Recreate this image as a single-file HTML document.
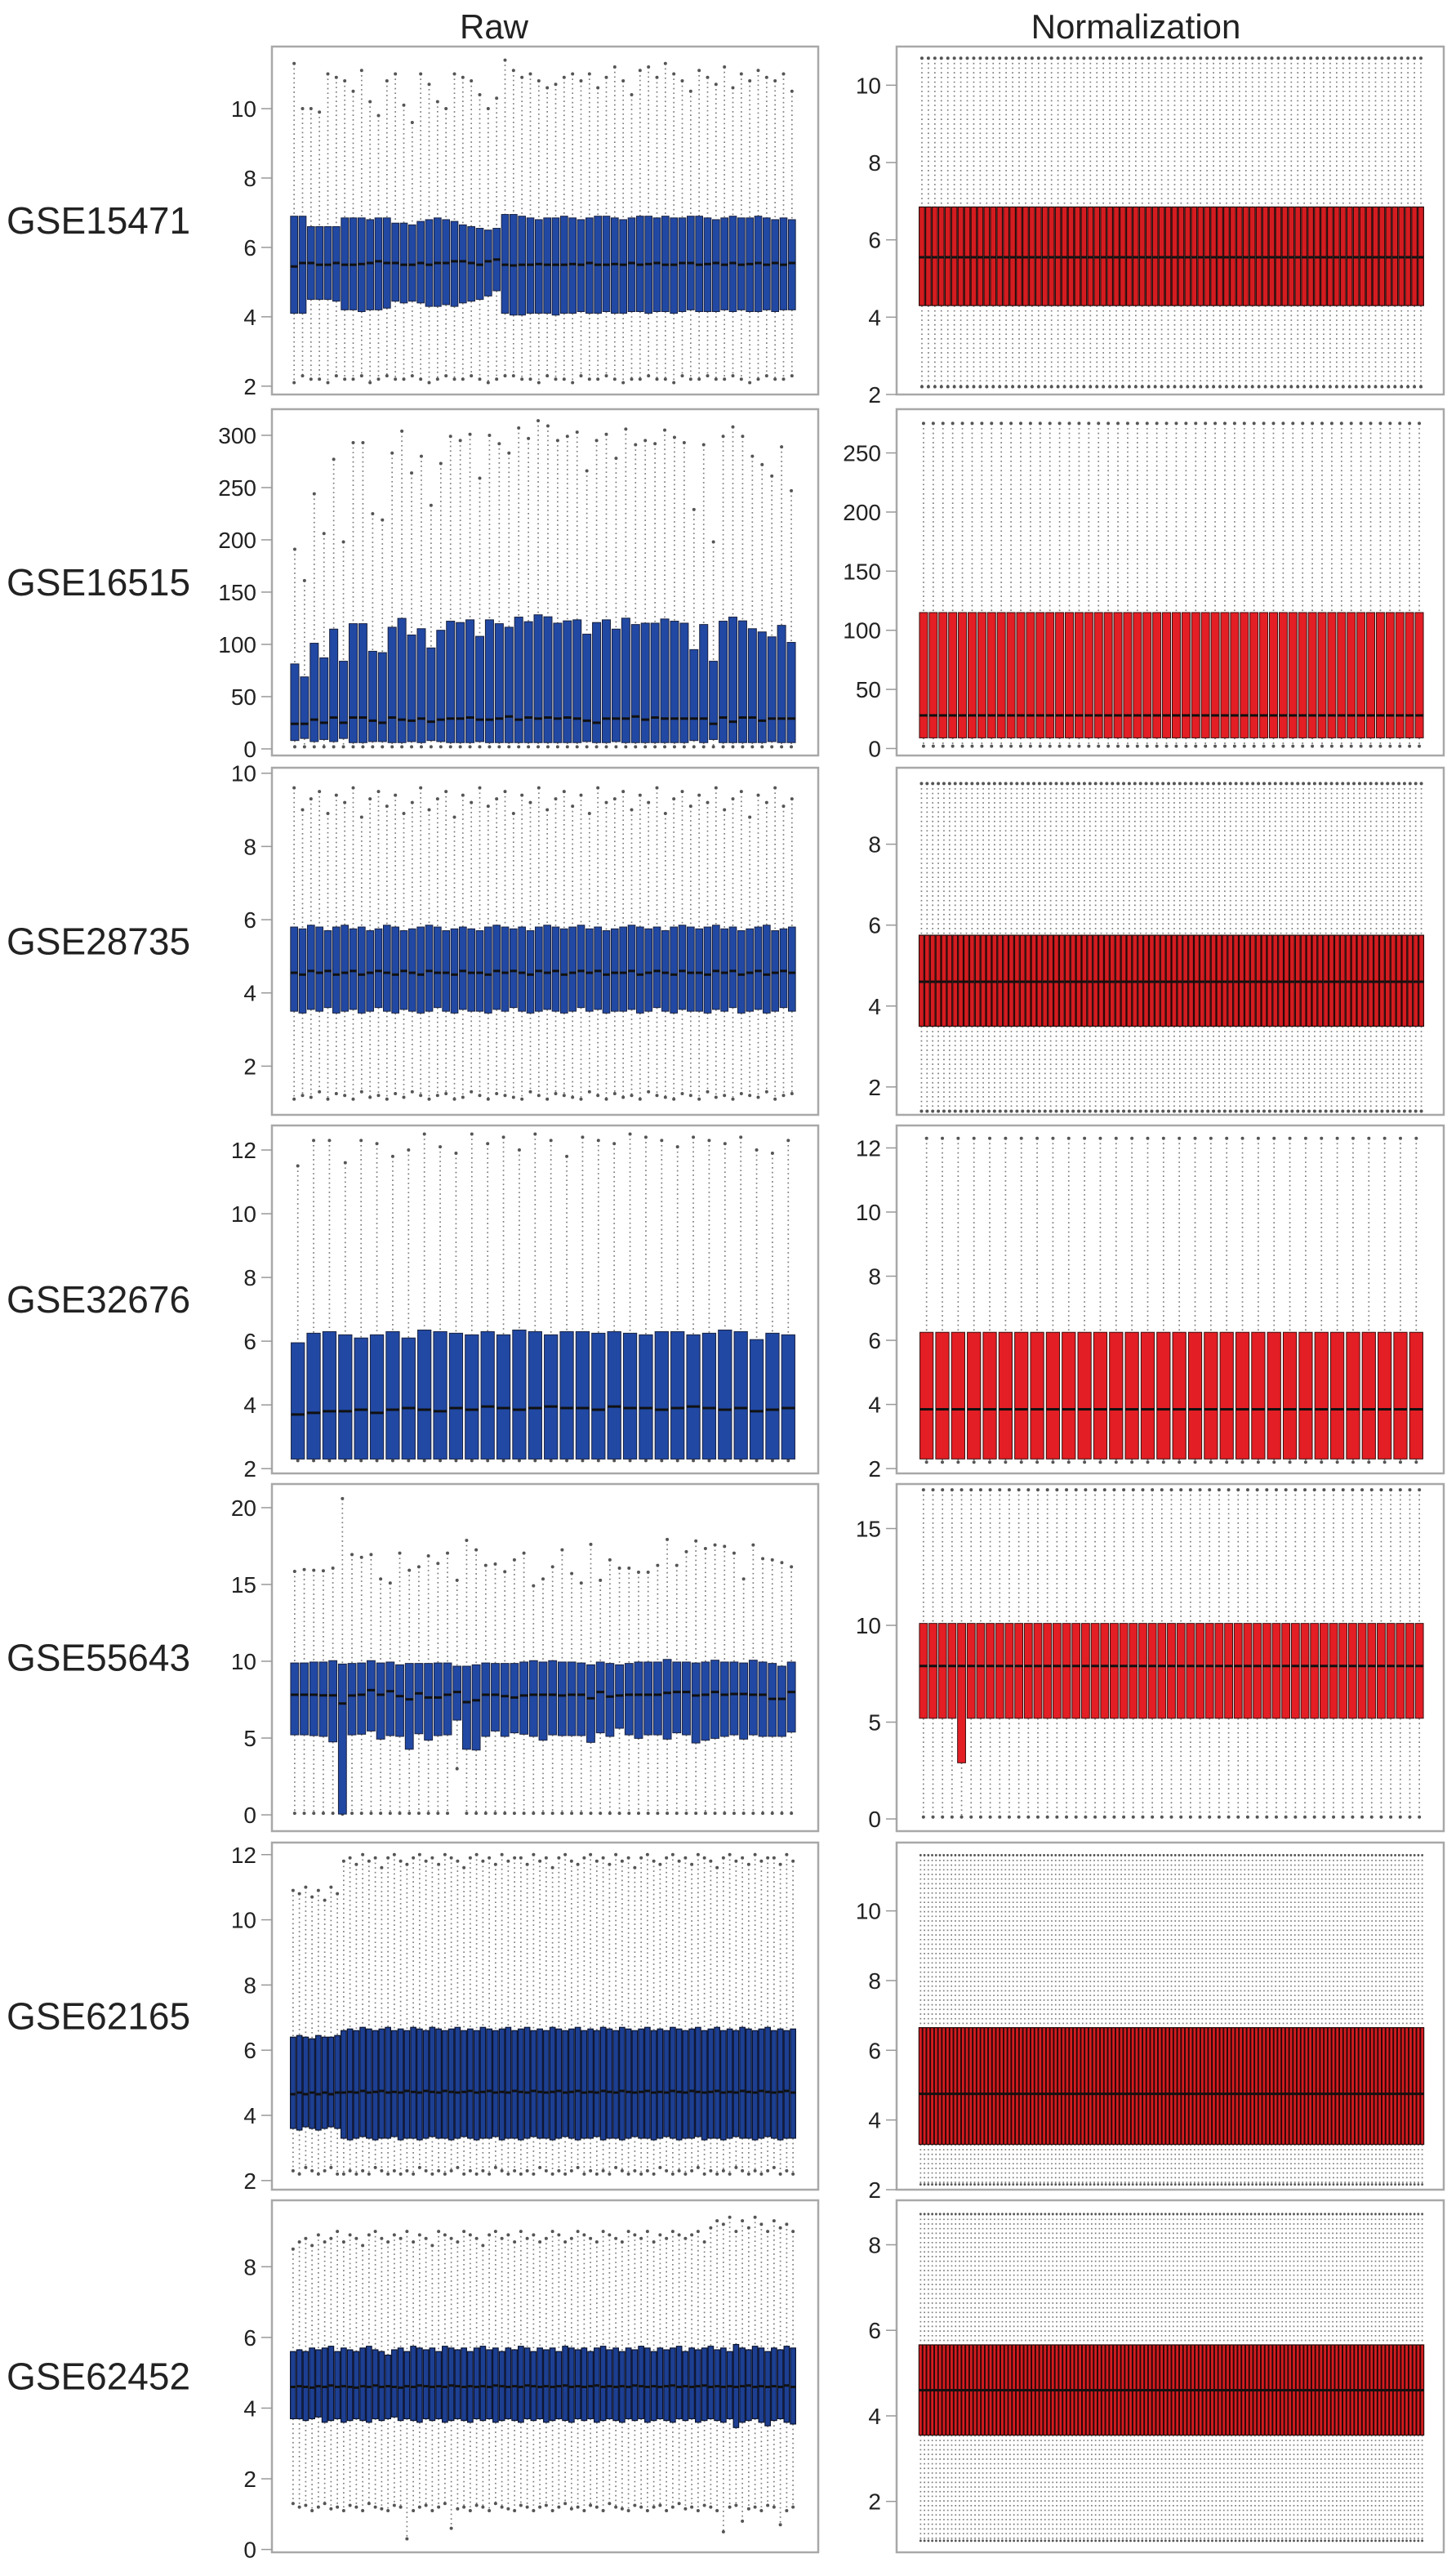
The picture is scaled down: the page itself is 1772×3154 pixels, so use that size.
<!DOCTYPE html>
<html><head><meta charset="utf-8">
<style>
html,body{margin:0;padding:0;background:#fff;}
svg{display:block;}
text{font-family:"Liberation Sans",Arial,sans-serif;}
</style></head>
<body>
<svg id="chart" xmlns="http://www.w3.org/2000/svg" width="1772" height="3154" viewBox="0 0 1772 3154">
<rect x="0" y="0" width="1772" height="3154" fill="#fff"/>
<text x="605" y="47" font-size="42" text-anchor="middle" fill="#222">Raw</text>
<text x="1391" y="47" font-size="42" text-anchor="middle" fill="#222">Normalization</text>
</svg>
<script>
// ---------- data ----------
const datasets = ["GSE15471","GSE16515","GSE28735","GSE32676","GSE55643","GSE62165","GSE62452"];

const gse15471Q3 = [6.9,6.9,6.6,6.6,6.6,6.6,6.85,6.85,6.85,6.8, 6.85,6.85,6.7,6.7,6.65,6.75,6.8,6.85,6.8,6.75, 6.65,6.6,6.55,6.5,6.55,6.95,6.95,6.9,6.85,6.8, 6.85,6.85,6.9,6.85,6.8,6.85,6.9,6.9,6.85,6.8, 6.85,6.9,6.9,6.85,6.9,6.85,6.85,6.9,6.9,6.85, 6.8,6.85,6.9,6.85,6.85,6.9,6.85,6.8,6.85,6.8];
const gse15471Q1 = [4.1,4.1,4.5,4.5,4.5,4.45,4.2,4.2,4.15,4.2, 4.2,4.25,4.45,4.4,4.45,4.4,4.3,4.3,4.35,4.3, 4.4,4.45,4.5,4.6,4.75,4.1,4.05,4.05,4.1,4.1, 4.1,4.05,4.1,4.1,4.15,4.1,4.1,4.15,4.1,4.1, 4.15,4.15,4.1,4.15,4.15,4.1,4.15,4.2,4.15,4.15, 4.15,4.2,4.15,4.2,4.15,4.15,4.2,4.15,4.2,4.2];
const gse15471Med = [5.45,5.55,5.55,5.5,5.5,5.55,5.5,5.5,5.52,5.55, 5.6,5.55,5.55,5.5,5.5,5.55,5.5,5.55,5.55,5.6, 5.6,5.55,5.5,5.6,5.65,5.5,5.48,5.5,5.5,5.52, 5.5,5.5,5.5,5.52,5.5,5.55,5.5,5.5,5.52,5.5, 5.55,5.5,5.52,5.55,5.5,5.5,5.55,5.55,5.5,5.52, 5.55,5.5,5.55,5.5,5.52,5.55,5.5,5.55,5.5,5.55];
const gse15471Hi = [11.3,10.0,10.0,9.9,11.0,10.9,10.8,10.5,11.1,10.2, 9.8,10.8,11.0,10.1,9.6,11.0,10.7,10.2,10.0,11.0, 10.9,10.8,10.4,10.0,10.3,11.4,11.1,10.9,11.0,10.8, 10.6,10.7,10.9,11.0,10.8,11.0,10.6,10.9,11.2,10.8, 10.4,11.1,11.2,10.9,11.3,11.0,10.8,10.5,11.1,10.9, 10.7,11.2,10.6,11.0,10.8,11.1,10.9,10.8,11.0,10.5];
const gse15471Lo = [2.1,2.3,2.2,2.2,2.1,2.3,2.2,2.2,2.3,2.1, 2.2,2.3,2.2,2.2,2.3,2.2,2.1,2.2,2.3,2.2, 2.2,2.3,2.2,2.1,2.2,2.3,2.3,2.2,2.2,2.1, 2.3,2.2,2.2,2.1,2.3,2.2,2.2,2.3,2.2,2.1, 2.2,2.2,2.3,2.2,2.2,2.1,2.3,2.2,2.2,2.3, 2.2,2.2,2.3,2.2,2.1,2.2,2.3,2.2,2.2,2.3];

const gse16515Q3 = [81.3,68.9,101.1,87.1,114.6,83.9,119.8,119.8,93.4,92.1, 116.4,124.9,109,115,96.6,113.5,122.2,120.9,123.5,107.7, 123.5,119.8,116.4,126.1,121.7,128.3,126.4,120.3,122.5,123.5, 109.8,120.9,123.5,114.6,125.1,119,120.3,120.3,124.3,122.2, 120.3,95,119,83.9,122.2,126.1,122.5,115,111.9,107.2, 118.2,101.9];
const gse16515Q1 = [8,10,7,9,7,10,6,6,7,7, 6,6,7,6,8,7,6,6,6,7, 6,6,6,6,6,6,6,6,6,6, 7,6,6,7,6,6,6,6,6,6, 6,8,6,9,6,6,6,6,6,7, 6,6];
const gse16515Med = [24,24,28,25,30,25,30,30,27,25, 30,28,27,29,26,28,29,29,30,28, 28,29,31,28,30,29,30,29,30,29, 27,25,29,29,29,31,28,30,29,29, 29,29,29,24,30,26,30,30,27,29, 29,29];
const gse16515Hi = [191,161,244,206,277,198,293,293,225,219, 283,304,264,280,233,273,299,295,301,259, 300,292,283,307,297,314,309,295,299,303, 266,295,301,278,306,291,295,292,305,298, 293,229,291,198,299,308,299,280,272,261, 289,247];
const gse16515Lo = [2,2,2,2,2,2,2,2,2,2, 2,2,2,2,2,2,2,2,2,2, 2,2,2,2,2,2,2,2,2,2, 2,2,2,2,2,2,2,2,2,2, 2,2,2,2,2,2,2,2,2,2, 2,2];

const gse28735Q3 = [5.8,5.75,5.85,5.8,5.7,5.8,5.85,5.75,5.8,5.7, 5.75,5.85,5.8,5.7,5.75,5.8,5.85,5.8,5.7,5.75, 5.8,5.75,5.7,5.8,5.85,5.8,5.75,5.8,5.7,5.8, 5.85,5.8,5.75,5.8,5.85,5.75,5.8,5.7,5.75,5.8, 5.85,5.8,5.75,5.8,5.7,5.8,5.85,5.8,5.75,5.8, 5.85,5.75,5.8,5.7,5.75,5.8,5.85,5.7,5.75,5.8];
const gse28735Q1 = [3.5,3.45,3.55,3.5,3.6,3.45,3.5,3.55,3.45,3.5, 3.6,3.5,3.45,3.55,3.5,3.45,3.5,3.6,3.5,3.45, 3.55,3.5,3.5,3.45,3.55,3.5,3.6,3.5,3.45,3.5, 3.55,3.5,3.45,3.5,3.6,3.5,3.55,3.45,3.5,3.5, 3.55,3.45,3.5,3.6,3.5,3.45,3.55,3.5,3.5,3.45, 3.55,3.5,3.6,3.45,3.5,3.55,3.45,3.5,3.6,3.5];
const gse28735Med = [4.55,4.5,4.6,4.55,4.6,4.5,4.55,4.6,4.5,4.55, 4.6,4.55,4.5,4.6,4.55,4.5,4.6,4.55,4.55,4.5, 4.6,4.55,4.55,4.5,4.6,4.55,4.6,4.55,4.5,4.6, 4.55,4.6,4.5,4.55,4.6,4.55,4.6,4.5,4.55,4.55, 4.6,4.5,4.55,4.6,4.55,4.5,4.6,4.55,4.55,4.5, 4.6,4.55,4.6,4.5,4.55,4.6,4.5,4.55,4.6,4.55];
const gse28735Hi = [9.6,9.0,9.3,9.5,8.9,9.4,9.2,9.6,8.8,9.3, 9.5,9.1,9.4,8.9,9.2,9.6,9.0,9.3,9.5,8.8, 9.4,9.2,9.6,9.1,9.3,9.5,8.9,9.4,9.2,9.6, 9.0,9.3,9.5,9.1,9.4,8.9,9.6,9.2,9.3,9.5, 9.0,9.4,9.2,9.6,8.9,9.3,9.5,9.1,9.4,9.2, 9.6,9.0,9.3,9.5,8.8,9.4,9.2,9.6,9.1,9.3];
const gse28735Lo = [1.1,1.2,1.15,1.3,1.1,1.25,1.2,1.1,1.3,1.15, 1.2,1.1,1.25,1.15,1.3,1.2,1.1,1.2,1.25,1.1, 1.15,1.3,1.2,1.1,1.25,1.2,1.15,1.1,1.3,1.2, 1.1,1.25,1.2,1.15,1.1,1.3,1.2,1.1,1.25,1.15, 1.2,1.1,1.3,1.2,1.15,1.1,1.25,1.2,1.1,1.3, 1.15,1.2,1.1,1.25,1.2,1.15,1.3,1.1,1.2,1.25];

const gse32676Q3 = [5.95,6.25,6.3,6.2,6.1,6.2,6.3,6.1,6.35,6.3, 6.25,6.2,6.3,6.2,6.35,6.3,6.2,6.3,6.3,6.25, 6.3,6.25,6.2,6.3,6.3,6.2,6.25,6.35,6.3,6.05, 6.25,6.2];
const gse32676Q1 = [2.3,2.3,2.3,2.3,2.3,2.3,2.3,2.3,2.3,2.3, 2.3,2.3,2.3,2.3,2.3,2.3,2.3,2.3,2.3,2.3, 2.3,2.3,2.3,2.3,2.3,2.3,2.3,2.3,2.3,2.3, 2.3,2.3];
const gse32676Med = [3.7,3.75,3.8,3.8,3.85,3.75,3.85,3.9,3.85,3.8, 3.9,3.85,3.95,3.9,3.85,3.9,3.95,3.9,3.9,3.85, 3.95,3.9,3.9,3.85,3.9,3.95,3.9,3.85,3.9,3.8, 3.85,3.9];
const gse32676Hi = [11.5,12.3,12.3,11.6,12.3,12.2,11.8,12.0,12.5,12.1, 11.9,12.5,12.2,12.4,12.0,12.5,12.3,11.8,12.4,12.3, 12.2,12.5,12.4,12.3,12.1,12.4,12.3,12.2,12.4,12.0, 11.9,12.3];
const gse32676Lo = [2.25,2.25,2.25,2.25,2.25,2.25,2.25,2.25,2.25,2.25, 2.25,2.25,2.25,2.25,2.25,2.25,2.25,2.25,2.25,2.25, 2.25,2.25,2.25,2.25,2.25,2.25,2.25,2.25,2.25,2.25, 2.25,2.25];

const gse55643Q3 = [9.89,9.89,9.95,9.95,10.04,9.82,9.86,9.89,10.04,9.89, 9.95,9.77,9.86,9.86,9.86,9.89,9.89,9.68,9.68,9.77, 9.89,9.86,9.86,9.86,9.95,10.04,9.95,10.04,9.95,9.95, 9.89,9.77,9.95,9.86,9.77,9.86,9.95,9.95,9.95,10.12, 9.95,9.95,9.89,9.95,10.07,9.95,9.95,9.89,10.07,9.95, 9.86,9.68,9.95];
const gse55643Q1 = [5.21,5.21,5.16,5.11,4.75,0.05,5.21,5.25,5.46,4.93, 5.16,5.11,4.27,5.28,4.86,5.16,5.21,6.17,4.27,4.22, 5.11,5.46,5.11,5.34,5.25,5.11,4.86,5.21,5.16,5.16, 5.16,4.72,5.34,5.11,5.64,5.21,4.98,5.21,5.21,4.93, 5.34,5.21,4.68,4.86,4.98,5.11,5.21,4.93,5.21,5.11, 5.11,5.11,5.39];
const gse55643Med = [7.82,7.82,7.82,7.78,7.78,7.25,7.77,7.82,8.12,7.82, 8.05,7.73,7.52,7.91,7.64,7.64,7.82,8.0,7.34,7.46, 7.82,7.82,7.73,7.64,7.77,7.82,7.82,7.82,7.77,7.82, 7.82,7.59,8.0,7.7,7.77,7.82,7.82,7.82,7.82,7.94, 8.0,8.0,7.77,7.82,8.0,7.82,7.87,7.87,7.82,7.82, 7.55,7.55,8.0];
const gse55643Hi = [15.85,15.97,15.92,15.89,16.06,20.59,16.95,16.77,16.95,15.36, 15.09,17.04,15.92,16.15,16.86,16.37,17.04,15.27,17.87,17.25, 16.24,16.33,15.83,16.6,17.04,14.91,15.36,16.15,17.25,15.71, 15.09,17.61,15.27,16.6,16.06,16.06,15.8,15.8,16.24,17.93, 16.24,17.13,17.83,17.34,17.57,17.48,17.04,15.36,17.57,16.68, 16.6,16.42,16.15];
const gse55643Lo = [0.1,0.1,0.1,0.1,0.1,0.05,0.1,0.1,0.1,0.1, 0.1,0.1,0.1,0.1,0.1,0.1,0.1,3.0,0.1,0.1, 0.1,0.1,0.1,0.1,0.1,0.1,0.1,0.1,0.1,0.1, 0.1,0.1,0.1,0.1,0.1,0.1,0.1,0.1,0.1,0.1, 0.1,0.1,0.1,0.1,0.1,0.1,0.1,0.1,0.1,0.1, 0.1,0.1,0.1];

const gse62165Q3 = [6.4,6.45,6.4,6.35,6.45,6.4,6.4,6.45,6.6,6.65, 6.6,6.7,6.65,6.6,6.65,6.7,6.6,6.65,6.6,6.7, 6.65,6.6,6.7,6.65,6.6,6.65,6.7,6.6,6.65,6.6, 6.7,6.65,6.6,6.65,6.7,6.6,6.65,6.7,6.6,6.65, 6.6,6.7,6.65,6.6,6.65,6.7,6.6,6.65,6.6,6.7, 6.65,6.6,6.7,6.65,6.6,6.65,6.7,6.6,6.65,6.6, 6.7,6.65,6.6,6.65,6.7,6.6,6.65,6.7,6.6,6.65, 6.6,6.7,6.65,6.6,6.65,6.7,6.6,6.65,6.6,6.65];
const gse62165Q1 = [3.6,3.55,3.65,3.6,3.55,3.6,3.65,3.6,3.3,3.25, 3.3,3.35,3.3,3.25,3.3,3.3,3.35,3.25,3.3,3.3, 3.25,3.3,3.35,3.3,3.3,3.25,3.3,3.35,3.3,3.25, 3.3,3.3,3.35,3.25,3.3,3.3,3.25,3.3,3.35,3.3, 3.3,3.25,3.3,3.35,3.3,3.25,3.3,3.3,3.35,3.25, 3.3,3.3,3.25,3.3,3.35,3.3,3.3,3.25,3.3,3.35, 3.3,3.25,3.3,3.3,3.35,3.25,3.3,3.3,3.25,3.3, 3.35,3.3,3.3,3.25,3.3,3.35,3.3,3.25,3.3,3.3];
const gse62165Med = [4.65,4.7,4.65,4.7,4.65,4.7,4.65,4.7,4.7,4.72, 4.7,4.75,4.7,4.72,4.75,4.7,4.72,4.7,4.75,4.72, 4.7,4.75,4.72,4.7,4.75,4.72,4.7,4.72,4.75,4.7, 4.72,4.75,4.7,4.72,4.7,4.75,4.72,4.7,4.75,4.72, 4.7,4.72,4.75,4.7,4.72,4.75,4.7,4.72,4.7,4.75, 4.72,4.7,4.75,4.72,4.7,4.72,4.75,4.7,4.72,4.7, 4.75,4.72,4.7,4.75,4.72,4.7,4.72,4.75,4.7,4.72, 4.7,4.75,4.72,4.7,4.75,4.72,4.7,4.72,4.75,4.7];
const gse62165Hi = [10.9,10.8,11.0,10.7,10.9,10.6,11.0,10.8,11.8,11.9, 11.7,12.0,11.8,11.9,11.6,11.9,12.0,11.8,11.7,11.9, 12.0,11.8,11.9,11.7,12.0,11.9,11.8,11.6,11.9,12.0, 11.8,11.9,11.7,12.0,11.8,11.9,11.9,11.7,12.0,11.8, 11.9,11.6,11.9,12.0,11.8,11.7,11.9,12.0,11.8,11.9, 11.7,12.0,11.8,11.9,11.6,11.9,12.0,11.8,11.7,11.9, 12.0,11.8,11.9,11.7,12.0,11.9,11.8,11.6,11.9,12.0, 11.8,11.9,11.7,12.0,11.8,11.9,11.9,11.7,12.0,11.8];
const gse62165Lo = [2.3,2.2,2.4,2.3,2.2,2.3,2.4,2.2,2.2,2.3, 2.2,2.3,2.2,2.4,2.3,2.2,2.3,2.2,2.3,2.2, 2.4,2.3,2.2,2.3,2.2,2.3,2.4,2.2,2.3,2.2, 2.3,2.2,2.4,2.3,2.2,2.3,2.2,2.3,2.2,2.4, 2.3,2.2,2.3,2.2,2.3,2.4,2.2,2.3,2.2,2.3, 2.2,2.4,2.3,2.2,2.3,2.2,2.3,2.2,2.4,2.3, 2.2,2.3,2.2,2.3,2.4,2.2,2.3,2.2,2.3,2.2, 2.4,2.3,2.2,2.3,2.2,2.3,2.4,2.2,2.3,2.2];

const gse62452Q3 = [5.6,5.65,5.6,5.7,5.65,5.7,5.75,5.6,5.7,5.65, 5.6,5.7,5.75,5.65,5.6,5.5,5.65,5.7,5.6,5.75, 5.7,5.65,5.7,5.6,5.75,5.7,5.65,5.7,5.6,5.7, 5.75,5.65,5.7,5.6,5.7,5.65,5.75,5.7,5.6,5.7, 5.65,5.7,5.6,5.75,5.7,5.65,5.7,5.6,5.7,5.75, 5.65,5.7,5.6,5.7,5.65,5.75,5.7,5.6,5.7,5.65, 5.7,5.75,5.6,5.7,5.65,5.7,5.75,5.65,5.7,5.6, 5.8,5.7,5.65,5.75,5.7,5.6,5.7,5.65,5.75,5.7];
const gse62452Q1 = [3.7,3.7,3.65,3.7,3.75,3.6,3.65,3.7,3.6,3.65, 3.7,3.65,3.6,3.7,3.65,3.7,3.75,3.65,3.7,3.65, 3.6,3.7,3.65,3.7,3.6,3.65,3.7,3.65,3.6,3.7, 3.65,3.7,3.6,3.65,3.7,3.65,3.6,3.7,3.65,3.7, 3.6,3.65,3.7,3.65,3.6,3.7,3.65,3.7,3.6,3.65, 3.7,3.65,3.6,3.7,3.65,3.7,3.6,3.65,3.7,3.65, 3.6,3.7,3.65,3.7,3.6,3.65,3.7,3.65,3.6,3.7, 3.45,3.6,3.65,3.7,3.6,3.5,3.65,3.7,3.6,3.55];
const gse62452Med = [4.6,4.62,4.6,4.58,4.62,4.6,4.64,4.6,4.62,4.6, 4.58,4.62,4.6,4.64,4.6,4.62,4.6,4.58,4.62,4.6, 4.64,4.62,4.6,4.62,4.6,4.64,4.62,4.6,4.62,4.6, 4.62,4.6,4.64,4.62,4.6,4.62,4.6,4.64,4.62,4.6, 4.62,4.6,4.62,4.64,4.6,4.62,4.6,4.62,4.64,4.6, 4.62,4.6,4.62,4.6,4.64,4.62,4.6,4.62,4.6,4.62, 4.64,4.6,4.62,4.6,4.62,4.64,4.6,4.62,4.6,4.62, 4.6,4.62,4.64,4.6,4.62,4.6,4.62,4.6,4.64,4.6];
const gse62452Hi = [8.5,8.7,8.8,8.6,8.9,8.7,8.8,9.0,8.7,8.9, 8.8,8.6,8.9,9.0,8.8,8.7,8.9,8.8,9.0,8.7, 8.9,8.8,8.6,9.0,8.9,8.8,8.7,9.0,8.9,8.8, 8.6,8.9,9.0,8.8,8.9,8.7,9.0,8.8,8.9,8.7, 8.8,9.0,8.9,8.7,8.8,9.0,8.9,8.8,8.7,9.0, 8.9,8.8,8.7,9.0,8.9,8.8,9.0,8.7,8.9,8.8, 9.0,8.9,8.8,8.9,9.0,8.7,9.1,9.3,9.2,9.4, 9.0,9.3,9.1,9.4,9.2,9.0,9.3,9.1,9.2,9.0];
const gse62452Lo = [1.3,1.2,1.25,1.1,1.2,1.3,1.15,1.2,1.1,1.25, 1.2,1.1,1.3,1.2,1.15,1.1,1.25,1.2,0.3,1.1, 1.2,1.25,1.1,1.2,1.3,0.6,1.15,1.2,1.1,1.25, 1.2,1.1,1.3,1.2,1.15,1.1,1.25,1.2,1.1,1.2, 1.25,1.1,1.2,1.3,1.15,1.2,1.1,1.25,1.2,1.1, 1.3,1.2,1.15,1.1,1.25,1.2,1.1,1.2,1.25,1.1, 1.2,1.3,1.15,1.2,1.1,1.25,1.2,1.1,0.5,1.2, 1.25,0.8,1.15,1.2,1.1,1.25,1.2,0.7,1.1,1.2];

const rawQ1 = [gse15471Q1,gse16515Q1,gse28735Q1,gse32676Q1,gse55643Q1,gse62165Q1,gse62452Q1];
const rawMed = [gse15471Med,gse16515Med,gse28735Med,gse32676Med,gse55643Med,gse62165Med,gse62452Med];
const rawQ3 = [gse15471Q3,gse16515Q3,gse28735Q3,gse32676Q3,gse55643Q3,gse62165Q3,gse62452Q3];
const rawHi = [gse15471Hi,gse16515Hi,gse28735Hi,gse32676Hi,gse55643Hi,gse62165Hi,gse62452Hi];
const rawLo = [gse15471Lo,gse16515Lo,gse28735Lo,gse32676Lo,gse55643Lo,gse62165Lo,gse62452Lo];

const normN = [78,52,90,32,53,131,130];
const normQ1 = [4.3,9,3.5,2.3,5.2,3.3,3.55];
const normMed = [5.55,28,4.6,3.85,7.9,4.75,4.6];
const normQ3 = [6.85,115,5.75,6.25,10.1,6.65,5.66];
const normLo = [2.2,2,1.4,2.2,0.1,2.15,1.08];
const normHi = [10.7,275,9.5,12.3,17,11.6,8.72];
const normOutlierPanel = [4];
const normOutlierIndex = [4];
const normOutlierQ1 = [2.9];

const rawTicks = [[2,4,6,8,10],[0,50,100,150,200,250,300],[2,4,6,8,10],[2,4,6,8,10,12],[0,5,10,15,20],[2,4,6,8,10,12],[0,2,4,6,8]];
const normTicks = [[2,4,6,8,10],[0,50,100,150,200,250],[2,4,6,8],[2,4,6,8,10,12],[0,5,10,15],[2,4,6,8,10],[2,4,6,8]];
const rawDomTop = [11.79,325,10.15,12.77,21.54,12.37,9.88];
const rawDomBot = [1.76,-6.3,0.67,1.85,-1.06,1.72,-0.08];
const normDomTop = [11.0,287,9.89,12.7,17.3,11.96,9.04];
const normDomBot = [2.0,-5.9,1.31,1.85,-0.63,2.0,0.81];

// ---------- layout ----------
const panelTop = [57,501,940,1378,1817,2256,2694];
const panelBot = [483,925,1365,1804,2242,2681,3125];
const NS = "http://www.w3.org/2000/svg";
const svg = document.getElementById('chart');
function el(tag, attrs, parent){
  const e = document.createElementNS(NS, tag);
  for (const k in attrs) e.setAttribute(k, attrs[k]);
  (parent || svg).appendChild(e);
  return e;
}
function yScale(top, bot, vTop, vBot){
  return v => top + (vTop - v) / (vTop - vBot) * (bot - top);
}

function drawPanel(p, side){
  const isRaw = side === 'raw';
  const fx0 = isRaw ? 333 : 1098, fx1 = isRaw ? 1002 : 1768;
  const bx0 = isRaw ? 355 : 1125, bx1 = isRaw ? 975 : 1744;
  const top = panelTop[p], bot = panelBot[p];
  const y = yScale(top, bot, isRaw ? rawDomTop[p] : normDomTop[p], isRaw ? rawDomBot[p] : normDomBot[p]);
  const g = el('g', {});
  
  

  const frame = el('rect', {x: fx0, y: top, width: fx1 - fx0, height: bot - top, fill: '#fff', stroke: '#a8a8a8', 'stroke-width': 2.5}, g);
  
  

  const ticks = isRaw ? rawTicks[p] : normTicks[p];
  const tg = el('g', {}, g);
  
  
  ticks.forEach(t => {
    const ty = y(t);
    const tl = el('line', {x1: fx0 - 13, x2: fx0, y1: ty, y2: ty, stroke: '#999', 'stroke-width': 1.5}, tg);
    
    
    const tx = el('text', {x: fx0 - 19, y: ty + 10, 'font-size': 28, 'text-anchor': 'end', fill: '#222'}, tg);
    tx.textContent = t;
    
    
  });

  const n = isRaw ? rawQ3[p].length : normN[p];
  const slot = (bx1 - bx0) / n;
  const bw = slot * 0.84;
  const dense = slot < 8;
  const sw = dense ? Math.min(1.2, slot * 0.25) : 1;
  const fill = isRaw ? (dense ? '#1d3f92' : '#2148a3') : (dense ? '#d41c20' : '#e31e24');
  const edge = isRaw ? (dense ? '#0b1430' : '#1a2240') : (dense ? '#2a0808' : '#3a1010');

  const wg = el('g', {}, g);
  
  
  const bg = el('g', {}, g);
  
  

  for (let i = 0; i < n; i++){
    let q1, med, q3, lo, hi;
    if (isRaw){ q1 = rawQ1[p][i]; med = rawMed[p][i]; q3 = rawQ3[p][i]; lo = rawLo[p][i]; hi = rawHi[p][i]; }
    else {
      q1 = normQ1[p]; med = normMed[p]; q3 = normQ3[p]; lo = normLo[p]; hi = normHi[p];
      for (let k = 0; k < normOutlierPanel.length; k++){
        if (normOutlierPanel[k] === p && normOutlierIndex[k] === i) q1 = normOutlierQ1[k];
      }
    }
    const cx = bx0 + slot * (i + 0.5);
    const w1 = el('line', {x1: cx, x2: cx, y1: y(hi), y2: y(q3), stroke: '#666', 'stroke-width': 1.7, 'stroke-dasharray': '1.7 4', opacity: 0.85}, wg);
    
    
    const w2 = el('line', {x1: cx, x2: cx, y1: y(q1), y2: y(lo), stroke: '#666', 'stroke-width': 1.7, 'stroke-dasharray': '1.7 4', opacity: 0.85}, wg);
    
    
    const c1 = el('circle', {cx: cx, cy: y(hi), r: Math.min(2, slot * 0.3), fill: '#555'}, wg);
    
    
    const c2 = el('circle', {cx: cx, cy: y(lo), r: Math.min(2, slot * 0.3), fill: '#555'}, wg);
    
    

    const r = el('rect', {x: cx - bw / 2, y: y(q3), width: bw, height: y(q1) - y(q3), fill: fill, stroke: edge, 'stroke-width': sw}, bg);
    
    
    const m = el('line', {x1: cx - bw / 2, x2: cx + bw / 2, y1: y(med), y2: y(med), stroke: '#111', 'stroke-width': 3}, bg);
    
    
  }
}

for (let p = 0; p < datasets.length; p++){
  drawPanel(p, 'raw');
  drawPanel(p, 'norm');
  const lbl = el('text', {x: 8, y: (panelTop[p] + panelBot[p]) / 2 + 16, 'font-size': 46, fill: '#222'});
  lbl.textContent = datasets[p];
  
  
}
</script>
</body></html>
